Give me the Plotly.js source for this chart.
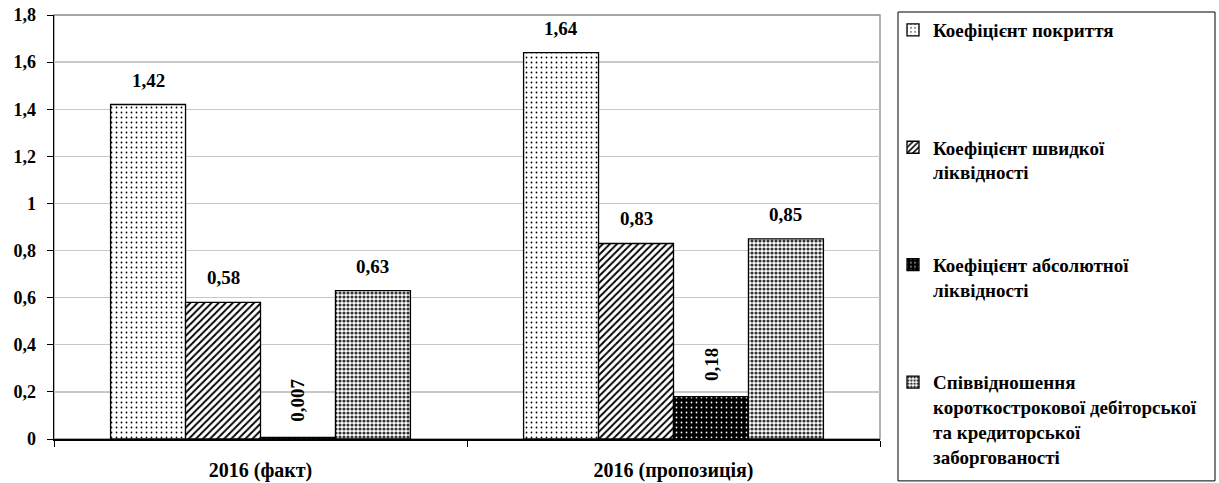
<!DOCTYPE html>
<html>
<head>
<meta charset="utf-8">
<script src="https://cdn.plot.ly/plotly-3.0.1.min.js"></script>
<style>html,body{margin:0;padding:0;background:#fff;}#chart{width:1219px;height:483px;}</style>
</head>
<body>
<div id="chart"></div>
<script>
// ---- data ----
var categories = ["2016 (факт)", "2016 (пропозиція)"];
var seriesNames = [
  "Коефіцієнт покриття<br> ",
  "Коефіцієнт швидкої<br>ліквідності",
  "Коефіцієнт абсолютної<br>ліквідності",
  "Співвідношення<br>короткострокової дебіторської<br>та кредиторської<br>заборгованості"
];
var coverage = [1.42, 1.64];
var quickLiquidity = [0.58, 0.83];
var absoluteLiquidity = [0.007, 0.18];
var receivablesPayables = [0.63, 0.85];
var yTickVals = [0, 0.2, 0.4, 0.6, 0.8, 1, 1.2, 1.4, 1.6, 1.8];
var yTickText = ["0", "0,2", "0,4", "0,6", "0,8", "1", "1,2", "1,4", "1,6", "1,8"];

// ---- styling ----
var FONT = "'Times New Roman', 'Liberation Serif', serif";
var values = [coverage, quickLiquidity, absoluteLiquidity, receivablesPayables];
var patterns = [
  {shape: ".", fgcolor: "#000", bgcolor: "#fff", size: 5, solidity: 0.1},
  {shape: "/", fgcolor: "#000", bgcolor: "#fff", size: 5, solidity: 0.38},
  {shape: ".", fgcolor: "#fff", bgcolor: "#000", size: 5, solidity: 0.1},
  {shape: ".", fgcolor: "#333", bgcolor: "#fff", size: 4, solidity: 0.5}
];
var bargap = 0.274;
var xIdx = categories.map(function (c, i) { return i; });

var traces = values.map(function (v, i) {
  return {
    type: "bar",
    name: seriesNames[i],
    legendgroup: "g" + i,
    x: xIdx,
    y: v,
    marker: {color: "#fff", pattern: patterns[i], line: {color: "#000", width: 1.3}},
    hoverinfo: "skip"
  };
});

// value labels
var annotations = [];
var nS = values.length;
var w = (1 - bargap) / nS;
values.forEach(function (v, i) {
  v.forEach(function (val, j) {
    var rotated = (i === 2);
    annotations.push({
      x: j + (i - (nS - 1) / 2) * w,
      y: val,
      xref: "x", yref: "y",
      text: String(val).replace(".", ","),
      showarrow: false,
      textangle: rotated ? -90 : 0,
      yanchor: "bottom",
      xanchor: "center",
      yshift: rotated ? 14 : 12,
      font: {family: FONT, size: 19, color: "#000", weight: "bold"}
    });
  });
});

var plotL = 54, plotR = 880, plotT = 14, plotB = 439, W = 1219, H = 483;
function px2x(p) { return (p - plotL) / (plotR - plotL); }
function py2y(p) { return (plotB - p) / (plotB - plotT); }

var layout = {
  width: W, height: H,
  margin: {l: plotL, r: W - plotR, t: plotT, b: H - plotB},
  paper_bgcolor: "#fff", plot_bgcolor: "#fff",
  barmode: "group", bargap: bargap, bargroupgap: 0,
  font: {family: FONT, color: "#000", size: 17, weight: "bold"},
  showlegend: true,
  legend: {
    x: px2x(893), y: py2y(11), xanchor: "left", yanchor: "top",
    bgcolor: "rgba(0,0,0,0)", borderwidth: 0,
    traceorder: "grouped", tracegroupgap: 65, valign: "top",
    maxheight: 480,
    font: {family: FONT, size: 19, color: "#000", weight: "bold"},
    itemclick: false
  },
  xaxis: {
    range: [-0.5, 1.5], tickvals: xIdx, ticktext: categories,
    ticks: "", showgrid: false, zeroline: false,
    showline: true, linecolor: "#000", linewidth: 1.5,
    tickfont: {family: FONT, size: 20, weight: "bold"},
    ticklabelstandoff: 12,
    minor: {tickvals: [-0.5, 0.5, 1.5], ticks: "outside", ticklen: 6, tickcolor: "#000", tickwidth: 1, showgrid: false}
  },
  yaxis: {
    range: [0, 1.8], tickvals: yTickVals, ticktext: yTickText,
    ticks: "outside", ticklen: 6, tickcolor: "#000",
    showgrid: true, gridcolor: "#c8c8c8", gridwidth: 1.3,
    zeroline: false, showline: true, linecolor: "#000", linewidth: 1.5,
    ticklabelstandoff: 7,
    tickfont: {family: FONT, size: 18, weight: "bold"}
  },
  shapes: [
    {type: "rect", xref: "paper", yref: "paper", x0: 0, x1: 1, y0: 0, y1: 1,
     line: {color: "#888", width: 1.3}, layer: "below"},
    {type: "rect", xref: "paper", yref: "paper", x0: px2x(898), x1: px2x(1215), y0: py2y(11), y1: py2y(481),
     line: {color: "#000", width: 1}, fillcolor: "rgba(0,0,0,0)"}
  ],
  annotations: annotations
};

Plotly.newPlot("chart", traces, layout, {displayModeBar: false, staticPlot: true});
</script>
</body>
</html>
